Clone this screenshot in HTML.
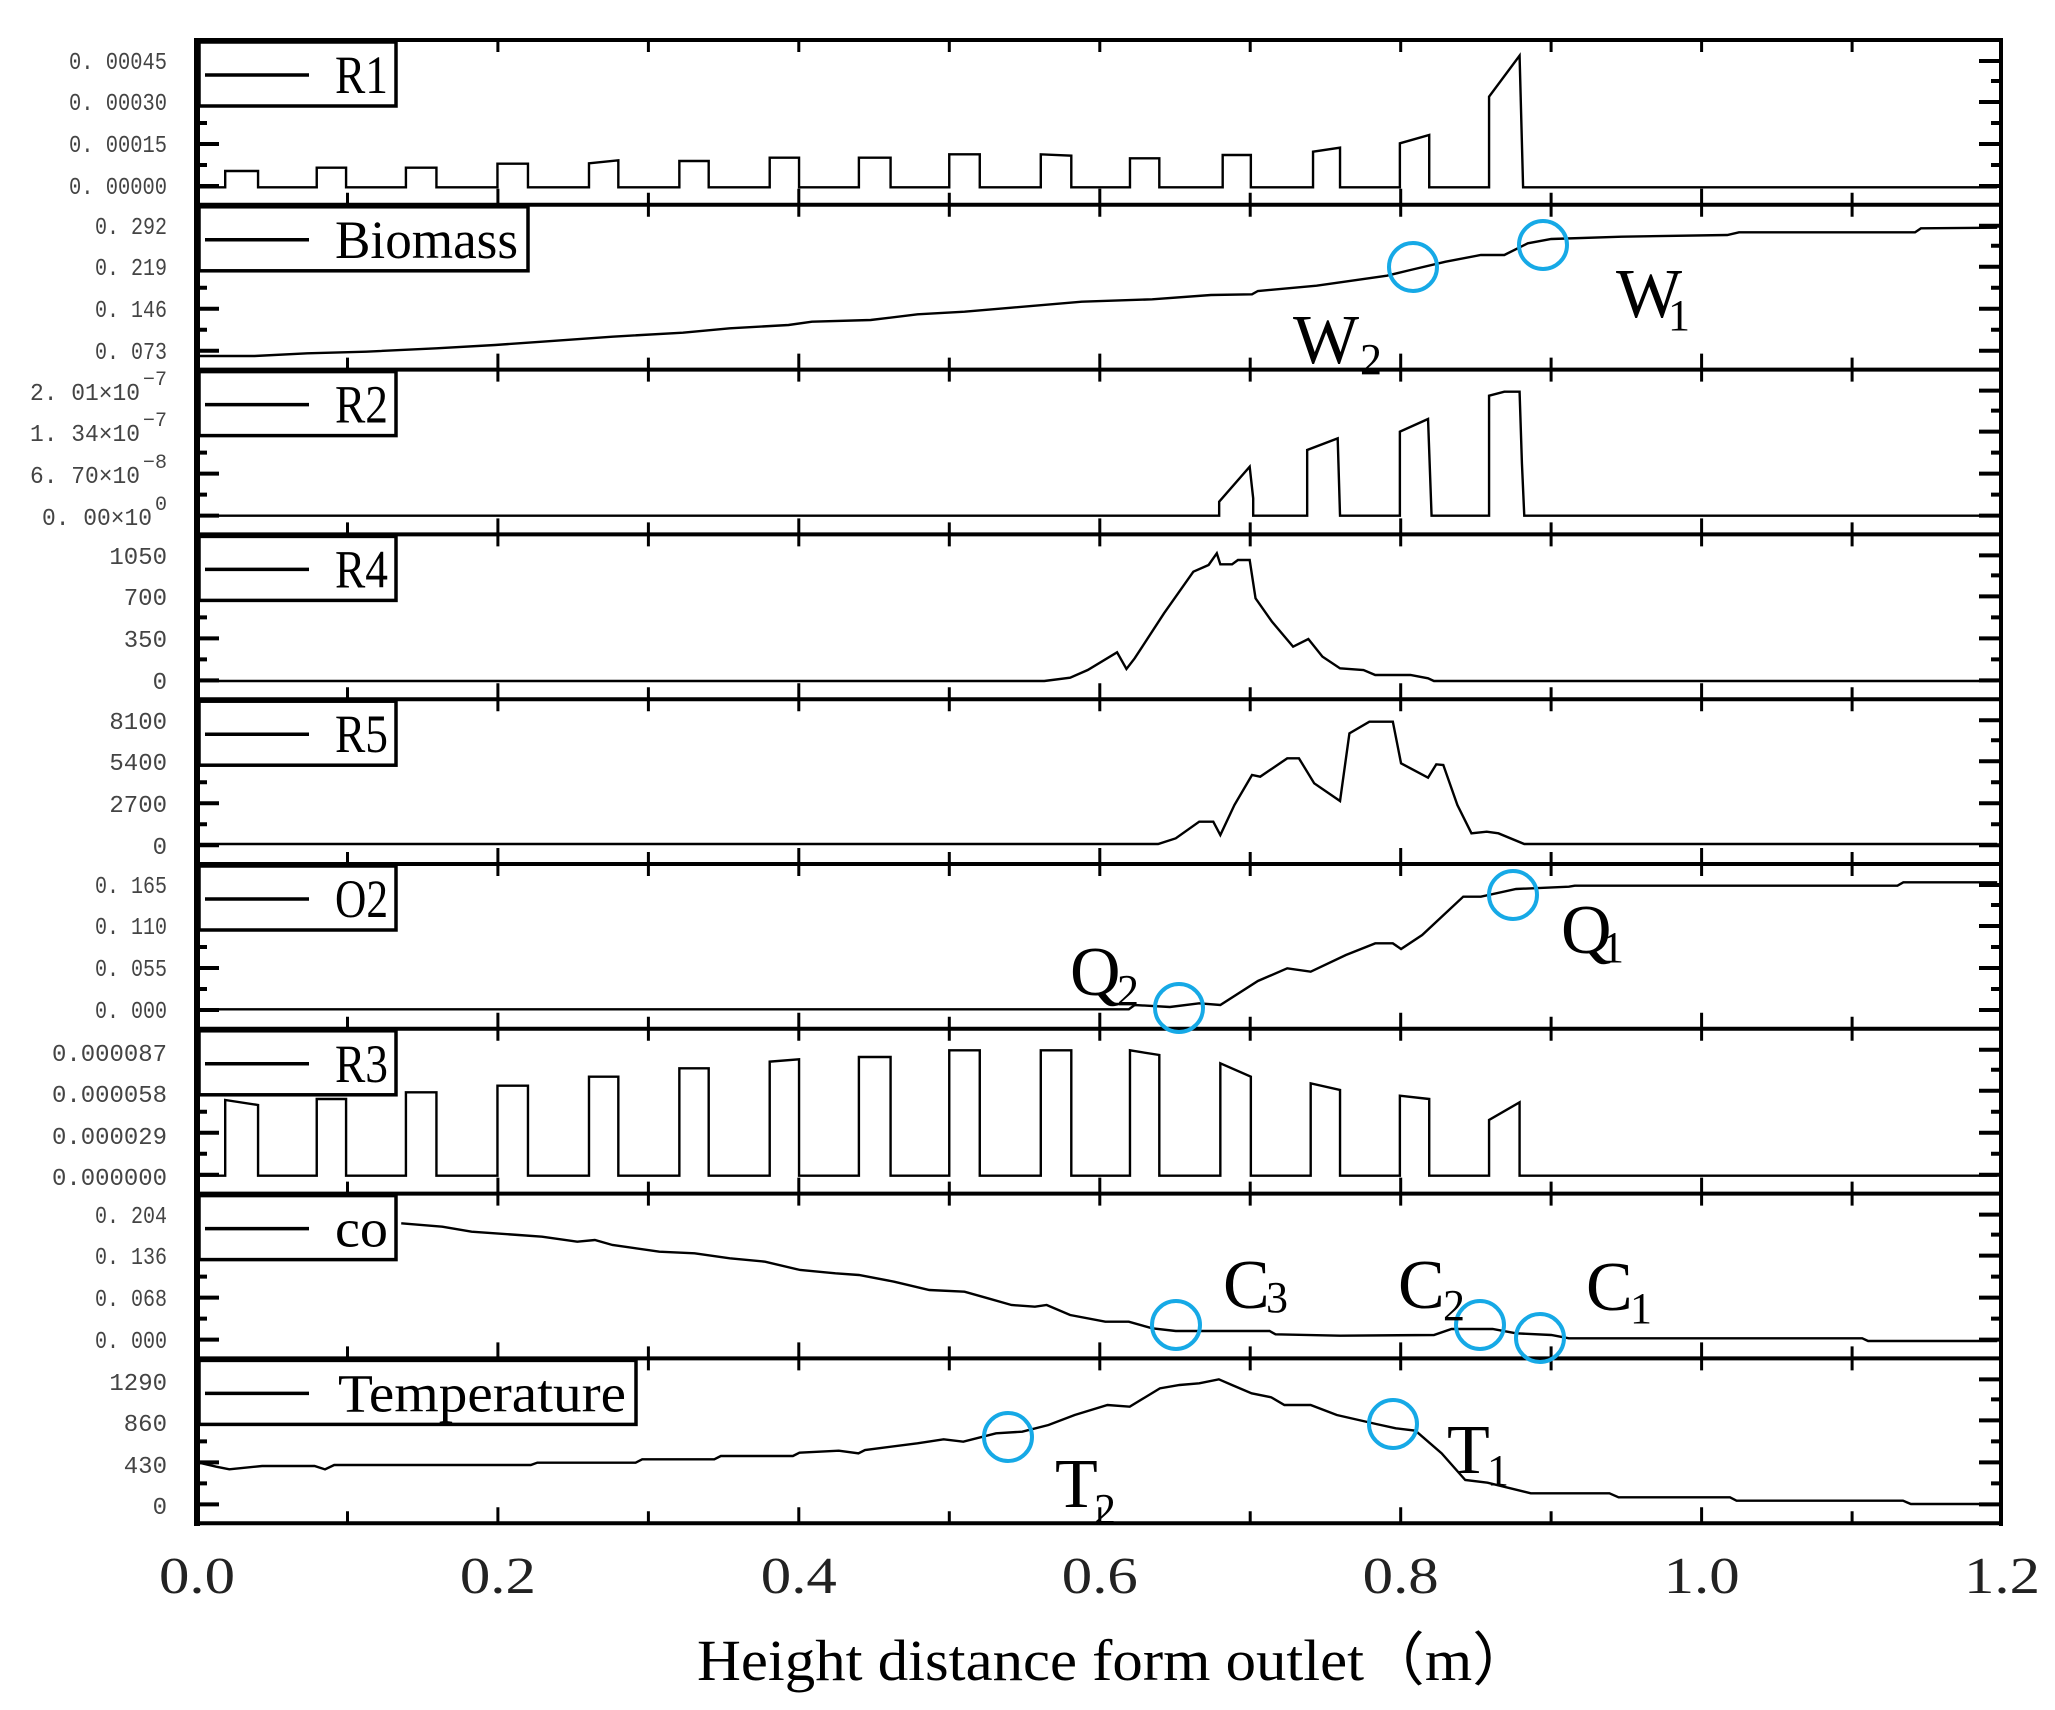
<!DOCTYPE html>
<html><head><meta charset="utf-8"><style>
html,body{margin:0;padding:0;background:#fff;}
svg{display:block;}
.d{fill:none;stroke:#000;stroke-width:2.4;vector-effect:non-scaling-stroke;stroke-linejoin:miter;}
.yl{font-family:"Liberation Mono",monospace;font-size:24px;fill:#444;text-anchor:end;}
.lg{font-family:"Liberation Serif",serif;font-size:54px;fill:#000;}
.an{font-family:"Liberation Serif",serif;font-size:70px;fill:#000;}
.sb{font-family:"Liberation Serif",serif;font-size:44px;fill:#000;}
.xl{font-family:"Liberation Serif",serif;font-size:52px;fill:#222;text-anchor:middle;}
.ci{fill:none;stroke:#16a9e6;stroke-width:4;}
</style></head><body>
<svg width="2055" height="1710" viewBox="0 0 2055 1710" xmlns="http://www.w3.org/2000/svg">
<defs>
<g id="tk" stroke="#000" fill="none">
<path stroke-width="3" d="M347.5,0v12M497.9,0v12M648.4,0v12M798.8,0v12M949.3,0v12M1099.8,0v12M1250.2,0v12M1400.7,0v12M1551.1,0v12M1701.6,0v12M1852.1,0v12
M347.5,164.8v-12M497.9,164.8v-16M648.4,164.8v-12M798.8,164.8v-16M949.3,164.8v-12M1099.8,164.8v-16M1250.2,164.8v-12M1400.7,164.8v-16M1551.1,164.8v-12M1701.6,164.8v-16M1852.1,164.8v-12"/>
<path stroke-width="4" d="M197,21h22M197,62h22M197,104h22M197,146h22M197,41h10M197,83h10M197,125h10
M2001,21h-22M2001,62h-22M2001,104h-22M2001,146h-22M2001,41h-10M2001,83h-10M2001,125h-10"/>
</g>
</defs>

<!-- ticks -->
<use href="#tk" y="40"/><use href="#tk" y="204.8"/><use href="#tk" y="369.6"/>
<use href="#tk" y="534.4"/><use href="#tk" y="699.2"/><use href="#tk" y="864"/>
<use href="#tk" y="1028.8"/><use href="#tk" y="1193.6"/><use href="#tk" y="1358.4"/>

<!-- data -->
<g transform="translate(190,35) scale(1.1735,0.33333)">
<path class="d" d="M5,457 H30 V408 H58 V457 H108 V398 H133 V457 H184 V398 H210 V457 H262 V386 H288 V457 H340 V385 L365,376 V457 H417 V378 H442 V457 H494 V368 H519 V457 H570 V368 H597 V457 H647 V358 H673 V457 H725 V358 L751,362 V457 H801 V370 H826 V457 H880 V360 H904 V457 H957 V350 L980,338 V457 H1031 V325 L1056,300 V457 H1107 V185 L1133,62 L1136,457 H1540"/>
<path class="d" d="M5,963 L55,963 L100,955 L150,950 L210,940 L260,930 L300,920 L360,905 L420,893 L460,880 L510,870 L530,860 L580,855 L620,838 L660,830 L700,818 L760,800 L820,793 L870,780 L905,778 L910,768 L960,752 L1020,722 L1040,705 L1070,680 L1100,660 L1120,660 L1140,625 L1160,612 L1220,605 L1310,600 L1320,592 L1470,592 L1475,580 L1540,578"/>
</g>
<g transform="translate(190,365) scale(1.1735,0.33333)">
<path class="d" d="M5,452 H877 V410 L903,305 L906,400 V452 H952 V255 L978,220 L980,452 H1031 V200 L1055,162 L1058,452 H1107 V92 L1120,80 H1133 L1135,295 L1137,452 H1540"/>
<path class="d" d="M5,948 H728 L750,938 L765,915 L790,862 L798,912 L805,880 L830,745 L855,620 L868,600 L875,565 L878,598 H888 L893,585 H903 L908,700 L922,770 L940,845 L953,822 L965,875 L980,910 L1000,915 L1010,930 H1040 L1055,940 L1060,948 H1540"/>
</g>
<g transform="translate(190,695) scale(1.1735,0.33333)">
<path class="d" d="M5,447 H825 L840,430 L860,380 H872 L878,420 L890,330 L905,240 L912,245 L935,190 H945 L958,265 L980,318 L988,115 L1005,80 H1025 L1032,205 L1055,248 L1062,208 L1068,210 L1080,330 L1092,415 L1105,410 L1115,415 L1137,447 H1540"/>
<path class="d" d="M5,943 H800 L805,930 L835,936 L860,925 L878,930 L910,858 L935,820 L955,830 L985,780 L1010,745 H1025 L1032,762 L1050,720 L1085,605 H1100 L1130,582 L1175,575 L1180,572 H1455 L1460,562 H1540"/>
</g>
<g transform="translate(190,1025) scale(1.1735,0.33333)">
<path class="d" d="M5,452 H30 V225 L58,240 V452 H108 V222 H133 V452 H184 V202 H210 V452 H262 V182 H288 V452 H340 V155 H365 V452 H417 V130 H442 V452 H494 V110 L519,103 V452 H570 V96 H597 V452 H647 V76 H673 V452 H725 V76 H751 V452 H801 V76 L826,90 V452 H878 V115 L904,155 V452 H955 V175 L980,195 V452 H1031 V212 L1056,222 V452 H1107 V285 L1133,232 V452 H1540"/>
<path class="d" d="M180,595 L215,605 L240,620 L280,630 L300,635 L330,650 L345,645 L360,660 L400,680 L430,685 L460,700 L490,710 L520,735 L550,745 L570,750 L600,770 L630,795 L660,800 L680,820 L700,840 L720,845 L730,840 L750,870 L780,890 L800,890 L820,910 L840,918 L920,918 L925,928 L980,932 L1060,930 L1075,912 L1110,912 L1130,925 L1160,930 L1175,940 L1425,940 L1430,948 L1540,948"/>
</g>
<g transform="translate(0,1300) scale(1.3106,0.33333)">
<path class="d" d="M152,488 L165,500 L175,508 L200,498 L240,498 L248,508 L255,495 L405,495 L410,488 L485,488 L490,478 L545,478 L550,468 L605,468 L610,458 L640,452 L655,460 L660,450 L700,430 L720,418 L735,425 L760,400 L780,395 L800,375 L820,345 L845,315 L862,320 L885,265 L900,255 L915,250 L930,238 L940,255 L955,280 L970,292 L980,315 L1000,315 L1020,345 L1050,372 L1065,385 L1080,392 L1100,460 L1118,540 L1135,548 L1168,580 L1228,580 L1235,592 L1320,592 L1325,602 L1452,602 L1458,612 L1527,612"/>
</g>

<!-- frame -->
<g stroke="#000" fill="none">
<path stroke-width="4" d="M197,40H2001M197,204.8H2001M197,369.6H2001M197,534.4H2001M197,699.2H2001M197,864H2001M197,1028.8H2001M197,1193.6H2001M197,1358.4H2001M197,1523.2H2001"/>
<path stroke-width="6" d="M197,38V1526"/>
<path stroke-width="4" d="M2001,38V1526"/>
</g>

<!-- legends -->
<g stroke="#000" stroke-width="3.5" fill="#fff">
<rect x="199" y="42" width="197" height="64"/>
<rect x="199" y="206.8" width="329" height="64"/>
<rect x="199" y="371.6" width="197" height="64"/>
<rect x="199" y="536.4" width="197" height="64"/>
<rect x="199" y="701.2" width="197" height="64"/>
<rect x="199" y="866" width="197" height="64"/>
<rect x="199" y="1030.8" width="197" height="64"/>
<rect x="199" y="1195.6" width="197" height="64"/>
<rect x="199" y="1360.4" width="437" height="64"/>
</g>
<g stroke="#000" stroke-width="3.5">
<path d="M205,75h104M205,239.8h104M205,404.6h104M205,569.4h104M205,734.2h104M205,899h104M205,1063.8h104M205,1228.6h104M205,1393.4h104"/>
</g>
<text class="lg" x="335" y="93" textLength="53" lengthAdjust="spacingAndGlyphs">R1</text>
<text class="lg" x="335" y="257.8" textLength="183" lengthAdjust="spacingAndGlyphs">Biomass</text>
<text class="lg" x="335" y="422.6" textLength="53" lengthAdjust="spacingAndGlyphs">R2</text>
<text class="lg" x="335" y="587.4" textLength="53" lengthAdjust="spacingAndGlyphs">R4</text>
<text class="lg" x="335" y="752.2" textLength="53" lengthAdjust="spacingAndGlyphs">R5</text>
<text class="lg" x="335" y="917" textLength="53" lengthAdjust="spacingAndGlyphs">O2</text>
<text class="lg" x="335" y="1081.8" textLength="53" lengthAdjust="spacingAndGlyphs">R3</text>
<text class="lg" x="335" y="1246.6" textLength="53" lengthAdjust="spacingAndGlyphs">co</text>
<text class="lg" x="338" y="1411.4" textLength="288" lengthAdjust="spacingAndGlyphs">Temperature</text>

<!-- y labels -->
<g class="yl">
<text x="167" y="69" textLength="98" lengthAdjust="spacingAndGlyphs">0. 00045</text>
<text x="167" y="110" textLength="98" lengthAdjust="spacingAndGlyphs">0. 00030</text>
<text x="167" y="152" textLength="98" lengthAdjust="spacingAndGlyphs">0. 00015</text>
<text x="167" y="194" textLength="98" lengthAdjust="spacingAndGlyphs">0. 00000</text>

<text x="167" y="234" textLength="72" lengthAdjust="spacingAndGlyphs">0. 292</text>
<text x="167" y="275" textLength="72" lengthAdjust="spacingAndGlyphs">0. 219</text>
<text x="167" y="317" textLength="72" lengthAdjust="spacingAndGlyphs">0. 146</text>
<text x="167" y="359" textLength="72" lengthAdjust="spacingAndGlyphs">0. 073</text>

<text x="140" y="400" textLength="110" lengthAdjust="spacingAndGlyphs">2. 01×10</text><text x="167" y="385" font-size="20">−7</text>
<text x="140" y="441" textLength="110" lengthAdjust="spacingAndGlyphs">1. 34×10</text><text x="167" y="426" font-size="20">−7</text>
<text x="140" y="483" textLength="110" lengthAdjust="spacingAndGlyphs">6. 70×10</text><text x="167" y="468" font-size="20">−8</text>
<text x="152" y="525" textLength="110" lengthAdjust="spacingAndGlyphs">0. 00×10</text><text x="167" y="510" font-size="20">0</text>

<text x="167" y="564">1050</text>
<text x="167" y="605">700</text>
<text x="167" y="647">350</text>
<text x="167" y="689">0</text>

<text x="167" y="729">8100</text>
<text x="167" y="770">5400</text>
<text x="167" y="812">2700</text>
<text x="167" y="854">0</text>

<text x="167" y="893" textLength="72" lengthAdjust="spacingAndGlyphs">0. 165</text>
<text x="167" y="934" textLength="72" lengthAdjust="spacingAndGlyphs">0. 110</text>
<text x="167" y="976" textLength="72" lengthAdjust="spacingAndGlyphs">0. 055</text>
<text x="167" y="1018" textLength="72" lengthAdjust="spacingAndGlyphs">0. 000</text>

<text x="167" y="1061" textLength="115" lengthAdjust="spacingAndGlyphs">0.000087</text>
<text x="167" y="1102" textLength="115" lengthAdjust="spacingAndGlyphs">0.000058</text>
<text x="167" y="1144" textLength="115" lengthAdjust="spacingAndGlyphs">0.000029</text>
<text x="167" y="1185" textLength="115" lengthAdjust="spacingAndGlyphs">0.000000</text>

<text x="167" y="1223" textLength="72" lengthAdjust="spacingAndGlyphs">0. 204</text>
<text x="167" y="1264" textLength="72" lengthAdjust="spacingAndGlyphs">0. 136</text>
<text x="167" y="1306" textLength="72" lengthAdjust="spacingAndGlyphs">0. 068</text>
<text x="167" y="1348" textLength="72" lengthAdjust="spacingAndGlyphs">0. 000</text>

<text x="167" y="1390">1290</text>
<text x="167" y="1431">860</text>
<text x="167" y="1473">430</text>
<text x="167" y="1514">0</text>
</g>

<!-- circles -->
<g class="ci">
<circle cx="1413" cy="267" r="24"/><circle cx="1543" cy="245" r="24"/>
<circle cx="1179" cy="1008" r="24"/><circle cx="1513" cy="895" r="24"/>
<circle cx="1176" cy="1325" r="24"/><circle cx="1480" cy="1325" r="24"/><circle cx="1540" cy="1338" r="24"/>
<circle cx="1008" cy="1437" r="24"/><circle cx="1393" cy="1424" r="24"/>
</g>

<!-- annotations -->
<text class="an" x="1293" y="363">W</text><text class="sb" x="1360" y="374">2</text>
<text class="an" x="1616" y="317">W</text><text class="sb" x="1668" y="330">1</text>
<text class="an" x="1070" y="995">Q</text><text class="sb" x="1117" y="1005">2</text>
<text class="an" x="1561" y="953">Q</text><text class="sb" x="1602" y="962">1</text>
<text class="an" x="1223" y="1308">C</text><text class="sb" x="1266" y="1312">3</text>
<text class="an" x="1398" y="1308">C</text><text class="sb" x="1443" y="1320">2</text>
<text class="an" x="1586" y="1310">C</text><text class="sb" x="1630" y="1323">1</text>
<text class="an" x="1055" y="1507">T</text><text class="sb" x="1094" y="1524">2</text>
<text class="an" x="1447" y="1473">T</text><text class="sb" x="1487" y="1485">1</text>

<!-- x labels -->
<g class="xl">
<text x="197" y="1593" textLength="76" lengthAdjust="spacingAndGlyphs">0.0</text>
<text x="497.9" y="1593" textLength="76" lengthAdjust="spacingAndGlyphs">0.2</text>
<text x="798.8" y="1593" textLength="76" lengthAdjust="spacingAndGlyphs">0.4</text>
<text x="1099.8" y="1593" textLength="76" lengthAdjust="spacingAndGlyphs">0.6</text>
<text x="1400.7" y="1593" textLength="76" lengthAdjust="spacingAndGlyphs">0.8</text>
<text x="1701.6" y="1593" textLength="76" lengthAdjust="spacingAndGlyphs">1.0</text>
<text x="2002" y="1593" textLength="76" lengthAdjust="spacingAndGlyphs">1.2</text>
</g>
<text x="697" y="1680" font-family="Liberation Serif, serif" font-size="58" fill="#000" textLength="836" lengthAdjust="spacingAndGlyphs">Height distance form outlet（m）</text>
</svg>
</body></html>
